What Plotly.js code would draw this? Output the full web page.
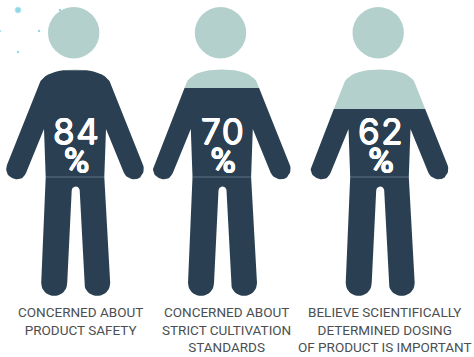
<!DOCTYPE html>
<html>
<head>
<meta charset="utf-8">
<script src="https://cdn.plot.ly/plotly-3.0.1.min.js"></script>
<style>html,body{margin:0;padding:0;background:#fff}#chart{width:474px;height:357px}</style>
</head>
<body>
<div id="chart"></div>
<script>
// Survey results shown as three filled human figures
var captions = [
  "CONCERNED ABOUT<br>PRODUCT SAFETY",
  "CONCERNED ABOUT<br>STRICT CULTIVATION<br>STANDARDS",
  "BELIEVE SCIENTIFICALLY<br>DETERMINED DOSING<br>OF PRODUCT IS IMPORTANT"
];
var percents = [84, 70, 62];

// Figure placement on the page-sized axes
var bodyCentres = [75, 221.8, 379.5];
var captionCentres = [80, 226.6, 385];
var dotX = [18, 60, 39, 18, 0];
var dotY = [10, 10, 31, 52, 31];
var dotSizes = [7, 3.5, 3.5, 3.5, 3];

// Height on the figure where the dark fill stops for a given percentage
var fillTopByPercent = {84: 70.2, 70: 88, 62: 109};

var DARK = "#2a4052", LIGHT = "#b4d0cc", DOT = "#62cbdf", TEXT = "#4b4f52";

function arc(cx, cy, r, from, to, n) {
  var pts = [];
  for (var i = 0; i <= n; i++) {
    var a = (from + (to - from) * i / n) * Math.PI / 180;
    pts.push([cx + r * Math.cos(a), cy + r * Math.sin(a)]);
  }
  return pts;
}

function bezier(p0, p1, p2, p3, n) {
  var pts = [];
  for (var i = 0; i <= n; i++) {
    var t = i / n, u = 1 - t;
    pts.push([
      u*u*u*p0[0] + 3*u*u*t*p1[0] + 3*u*t*t*p2[0] + t*t*t*p3[0],
      u*u*u*p0[1] + 3*u*u*t*p1[1] + 3*u*t*t*p2[1] + t*t*t*p3[1]
    ]);
  }
  return pts;
}

// Left half of the silhouette, x measured from the body's centre line
function halfOutline() {
  var pts = bezier([0, 69.5], [-14, 69.5], [-28, 72], [-34.5, 81], 10);
  pts = pts.concat(arc(-58.5, 169, 10.3, 202.5, 22.5, 24));
  pts.push([-31, 129]);
  pts.push([-29.3, 177]);
  pts = pts.concat(arc(-21, 283, 13, 180, 0, 20).map(function (p) { return [p[0] - 0.5, p[1]]; }));
  pts = pts.concat(arc(0, 190.5, 4, 180, 270, 6));
  return pts;
}

function silhouette(cx) {
  var left = halfOutline();
  var legShift = function (p) { return p[1] > 177 ? 0.7 : 0; };
  var a = left.map(function (p) { return [cx + p[0] + legShift(p), p[1]]; });
  var b = left.slice().reverse().map(function (p) { return [cx - p[0] + legShift(p), p[1]]; });
  return a.concat(b);
}

// Keep the part of a polygon on one side of a horizontal line
function clipAt(poly, level, keepBelow) {
  var inside = function (p) { return keepBelow ? p[1] >= level : p[1] <= level; };
  var out = [];
  for (var i = 0; i < poly.length; i++) {
    var p = poly[i], q = poly[(i + 1) % poly.length];
    if (inside(p)) out.push(p);
    if (inside(p) !== inside(q)) {
      var t = (level - p[1]) / (q[1] - p[1]);
      out.push([p[0] + t * (q[0] - p[0]), level]);
    }
  }
  return out;
}

function areaTrace(poly, colour) {
  var xs = poly.map(function (p) { return p[0]; });
  var ys = poly.map(function (p) { return p[1]; });
  xs.push(xs[0]); ys.push(ys[0]);
  return {x: xs, y: ys, type: "scatter", mode: "lines", fill: "toself",
          fillcolor: colour, line: {width: 0, color: colour}, hoverinfo: "skip"};
}

var traces = [{
  x: dotX, y: dotY, type: "scatter", mode: "markers",
  marker: {size: dotSizes, color: DOT}, hoverinfo: "skip"
}];
var annotations = [];

// Slight white halo thickens the numerals
var heavier = "0.55px 0 0 #fff, -0.55px 0 0 #fff, 0 0.5px 0 #fff, 0 -0.5px 0 #fff";

percents.forEach(function (pct, i) {
  var cx = bodyCentres[i];
  var outline = silhouette(cx);
  var level = fillTopByPercent[pct];

  traces.push({
    x: [cx - 1.3], y: [32.7], type: "scatter", mode: "markers",
    marker: {size: 51.4, color: LIGHT}, hoverinfo: "skip"
  });
  traces.push(areaTrace(clipAt(outline, level, false), LIGHT));
  traces.push(areaTrace(clipAt(outline, level, true), DARK));
  traces.push({
    x: [cx - 29, cx + 29], y: [177, 177], type: "scatter", mode: "lines",
    line: {width: 0.8, color: "#6a7f8c"}, hoverinfo: "skip"
  });

  // One label per figure: the outer size sets the tight line spacing
  annotations.push({
    x: cx + 1, y: 146, xref: "x", yref: "y", showarrow: false,
    text: '<span style="font-size:35px;letter-spacing:1.5px">' + pct + '</span><br>' +
          '<span style="font-size:35px;font-family:Roboto;font-weight:500">%</span>',
    xanchor: "center", yanchor: "middle", align: "center",
    font: {family: "Inter", size: 22.3, color: "#ffffff", shadow: heavier}
  });
  annotations.push({
    x: captionCentres[i], y: 302, xref: "x", yref: "y", text: captions[i], showarrow: false,
    xanchor: "center", yanchor: "top", align: "center",
    font: {family: "Roboto", size: 13.5, color: TEXT}
  });
});

var hiddenAxis = {visible: false, fixedrange: true, zeroline: false, showgrid: false};
var layout = {
  width: 474, height: 357,
  margin: {l: 0, r: 0, t: 0, b: 0, pad: 0},
  paper_bgcolor: "#ffffff", plot_bgcolor: "#ffffff",
  showlegend: false,
  xaxis: Object.assign({range: [0, 474]}, hiddenAxis),
  yaxis: Object.assign({range: [357, 0]}, hiddenAxis),
  annotations: annotations
};
Plotly.newPlot("chart", traces, layout, {displayModeBar: false, staticPlot: true});
</script>
</body>
</html>
